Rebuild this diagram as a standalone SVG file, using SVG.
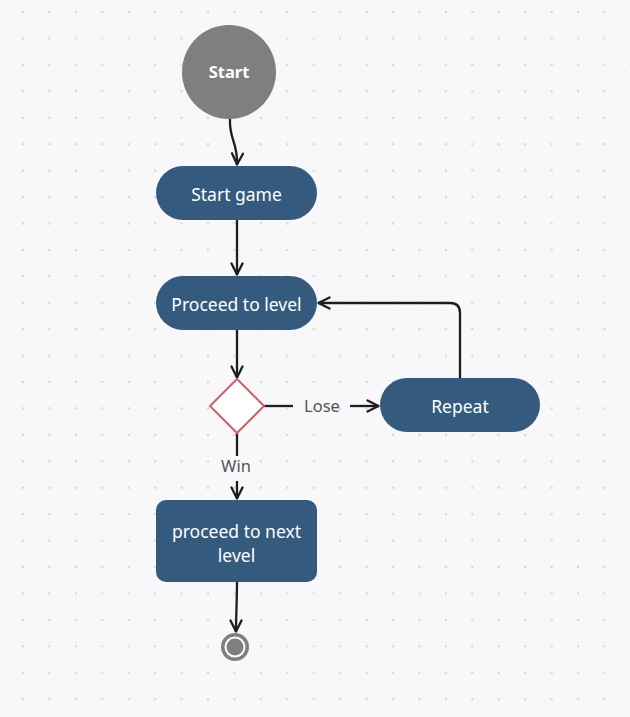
<svg xmlns="http://www.w3.org/2000/svg" width="630" height="717" viewBox="0 0 630 717">
<defs>
<pattern id="dots" x="23" y="12" width="26.43" height="26.43" patternUnits="userSpaceOnUse">
<circle cx="0" cy="0" r="1.3" fill="#d6d7dc"/>
<circle cx="26.43" cy="0" r="1.3" fill="#d6d7dc"/>
<circle cx="0" cy="26.43" r="1.3" fill="#d6d7dc"/>
<circle cx="26.43" cy="26.43" r="1.3" fill="#d6d7dc"/>
</pattern>
<marker id="arr" viewBox="0 0 14 14" refX="13" refY="7" markerWidth="14" markerHeight="14" markerUnits="userSpaceOnUse" orient="auto">
<path d="M1.5,1.5 L12.5,7 L1.5,12.5" fill="none" stroke="#1e1e1e" stroke-width="2.3" stroke-linecap="round" stroke-linejoin="round"/>
</marker>
<style>
.node{fill:#345a7d}
.lbl{font-family:"Noto Sans","Open Sans",sans-serif;font-size:17.5px;fill:#ffffff;text-anchor:middle}
.edge{fill:none;stroke:#1e1e1e;stroke-width:2.3}
.elbl{font-family:"Noto Sans","Open Sans",sans-serif;font-size:16.5px;fill:#555555;text-anchor:middle}
</style>
</defs>
<rect width="630" height="717" fill="#f8f8fa"/>
<rect width="630" height="717" fill="url(#dots)"/>

<g id="connectors">
<path class="edge" d="M230,119 C229,140 238,142 237,165" marker-end="url(#arr)"/>
<path class="edge" d="M237,220 L237,275" marker-end="url(#arr)"/>
<path class="edge" d="M237,330 C237,345 237,360 237,378" marker-end="url(#arr)"/>
<path class="edge" d="M264,406 L293,406"/>
<path class="edge" d="M350,406 L379,406" marker-end="url(#arr)"/>
<text class="elbl" x="322" y="412">Lose</text>
<path class="edge" d="M237,433 L237,456"/>
<path class="edge" d="M237,481 L237,499" marker-end="url(#arr)"/>
<text class="elbl" x="236" y="472">Win</text>
<path class="edge" d="M460,378 L460,313 Q460,303 450,303 L318,303" marker-end="url(#arr)"/>
<path class="edge" d="M237,582 C237,600 236,615 236,632" marker-end="url(#arr)"/>
</g>

<g id="start">
<circle cx="229" cy="72" r="47" fill="#7f7f7f"/>
<text class="lbl" x="229" y="78" font-weight="bold" style="font-size:16.5px">Start</text>
</g>
<g id="start-game">
<rect class="node" x="156" y="166" width="161" height="54" rx="27"/>
<text class="lbl" x="236.5" y="200.5">Start game</text>
</g>
<g id="proceed-level">
<rect class="node" x="156" y="276" width="161" height="54" rx="27"/>
<text class="lbl" x="236.5" y="310.5">Proceed to level</text>
</g>
<g id="decision">
<path d="M237,379 L264,406 L237,433 L210,406 Z" fill="#ffffff" stroke="#d0606e" stroke-width="2"/>
</g>
<g id="repeat">
<rect class="node" x="380" y="378" width="160" height="54" rx="27"/>
<text class="lbl" x="460" y="413">Repeat</text>
</g>
<g id="next-level">
<rect class="node" x="156" y="500" width="161" height="82" rx="10"/>
<text class="lbl" x="236.5" y="537.5">proceed to next</text>
<text class="lbl" x="236.5" y="561.5">level</text>
</g>
<g id="end">
<circle cx="235" cy="647" r="14" fill="#7f7f7f"/>
<circle cx="235" cy="647" r="10.5" fill="#ffffff"/>
<circle cx="235" cy="647" r="8.5" fill="#7f7f7f"/>
</g>
</svg>
